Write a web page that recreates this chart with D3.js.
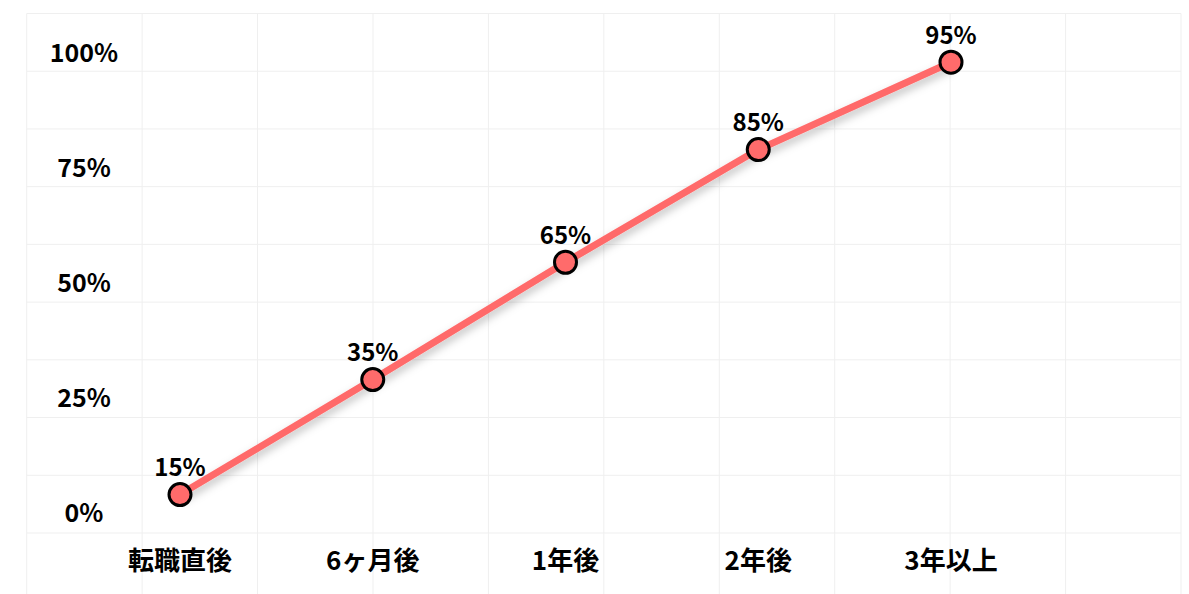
<!DOCTYPE html>
<html>
<head>
<meta charset="utf-8">
<script src="https://cdn.jsdelivr.net/npm/d3@7"></script>
<style>
  body { margin: 0; background: #fff; }
  svg { display: block; }
  text { font-family: "Noto Sans CJK JP", "Noto Sans", sans-serif; font-weight: bold; fill: #000; }
</style>
</head>
<body>
<div id="chart"></div>
<script>
// categories on the x axis
var stages = ["転職直後", "6ヶ月後", "1年後", "2年後", "3年以上"];
// text shown above each point
var pointLabels = [15, 35, 65, 85, 95];
// height of each point read against the y axis (0-100)
var pointLevels = [4, 29, 54.5, 79, 98];
// y axis tick labels
var yTicks = [0, 25, 50, 75, 100];

var svgWidth = 1189;
var svgHeight = 594;

var svg = d3.select("#chart")
  .append("svg")
  .attr("width", svgWidth)
  .attr("height", svgHeight);

// drop shadow under the line
var defs = svg.append("defs");
var shadow = defs.append("filter")
  .attr("id", "shadow")
  .attr("x", "-10%").attr("y", "-30%")
  .attr("width", "120%").attr("height", "160%");
shadow.append("feDropShadow")
  .attr("dx", 0)
  .attr("dy", 5)
  .attr("stdDeviation", 4)
  .attr("flood-color", "#000")
  .attr("flood-opacity", 0.25);

// background grid
var gridX = d3.scaleLinear().domain([0, 10]).range([26.7, 1181]);
var gridY = d3.scaleLinear().domain([0, 9]).range([13.5, 533]);

var grid = svg.append("g").attr("class", "grid");
grid.selectAll("line.v")
  .data(d3.range(0, 11))
  .enter().append("line")
  .attr("class", "v")
  .attr("x1", d => gridX(d)).attr("x2", d => gridX(d))
  .attr("y1", gridY(0)).attr("y2", svgHeight)
  .attr("stroke", "#efefef")
  .attr("stroke-width", 1);
grid.selectAll("line.h")
  .data(d3.range(0, 10))
  .enter().append("line")
  .attr("class", "h")
  .attr("x1", gridX(0)).attr("x2", gridX(10))
  .attr("y1", d => gridY(d)).attr("y2", d => gridY(d))
  .attr("stroke", "#efefef")
  .attr("stroke-width", 1);

// scales
var xScale = d3.scalePoint()
  .domain(stages)
  .range([180, 951]);

var yScale = d3.scaleLinear()
  .domain([0, 100])
  .range([513, 53]);

// y axis labels
svg.append("g")
  .selectAll("text")
  .data(yTicks)
  .enter().append("text")
  .attr("x", 84)
  .attr("y", d => yScale(d))
  .attr("dy", "0.36em")
  .attr("text-anchor", "middle")
  .style("font-size", "25px")
  .text(d => d + "%");

// x axis labels
svg.append("g")
  .selectAll("text")
  .data(stages)
  .enter().append("text")
  .attr("x", d => xScale(d))
  .attr("y", 561)
  .attr("dy", "0.36em")
  .attr("text-anchor", "middle")
  .style("font-size", "26px")
  .text(d => d);

var points = stages.map(function(s, i) {
  return { stage: s, level: pointLevels[i], label: pointLabels[i] };
});

// the line
var line = d3.line()
  .x(d => xScale(d.stage))
  .y(d => yScale(d.level));

svg.append("path")
  .datum(points)
  .attr("d", line)
  .attr("fill", "none")
  .attr("stroke", "#ff6b6b")
  .attr("stroke-width", 7)
  .attr("stroke-linejoin", "round")
  .attr("filter", "url(#shadow)");

// points
svg.append("g")
  .selectAll("circle")
  .data(points)
  .enter().append("circle")
  .attr("cx", d => xScale(d.stage))
  .attr("cy", d => yScale(d.level))
  .attr("r", 11)
  .attr("fill", "#ff6b6b")
  .attr("stroke", "#000")
  .attr("stroke-width", 3);

// value labels above points
svg.append("g")
  .selectAll("text")
  .data(points)
  .enter().append("text")
  .attr("x", d => xScale(d.stage))
  .attr("y", d => yScale(d.level) - 27)
  .attr("dy", "0.36em")
  .attr("text-anchor", "middle")
  .style("font-size", "24px")
  .text(d => d.label + "%");
</script>
</body>
</html>
